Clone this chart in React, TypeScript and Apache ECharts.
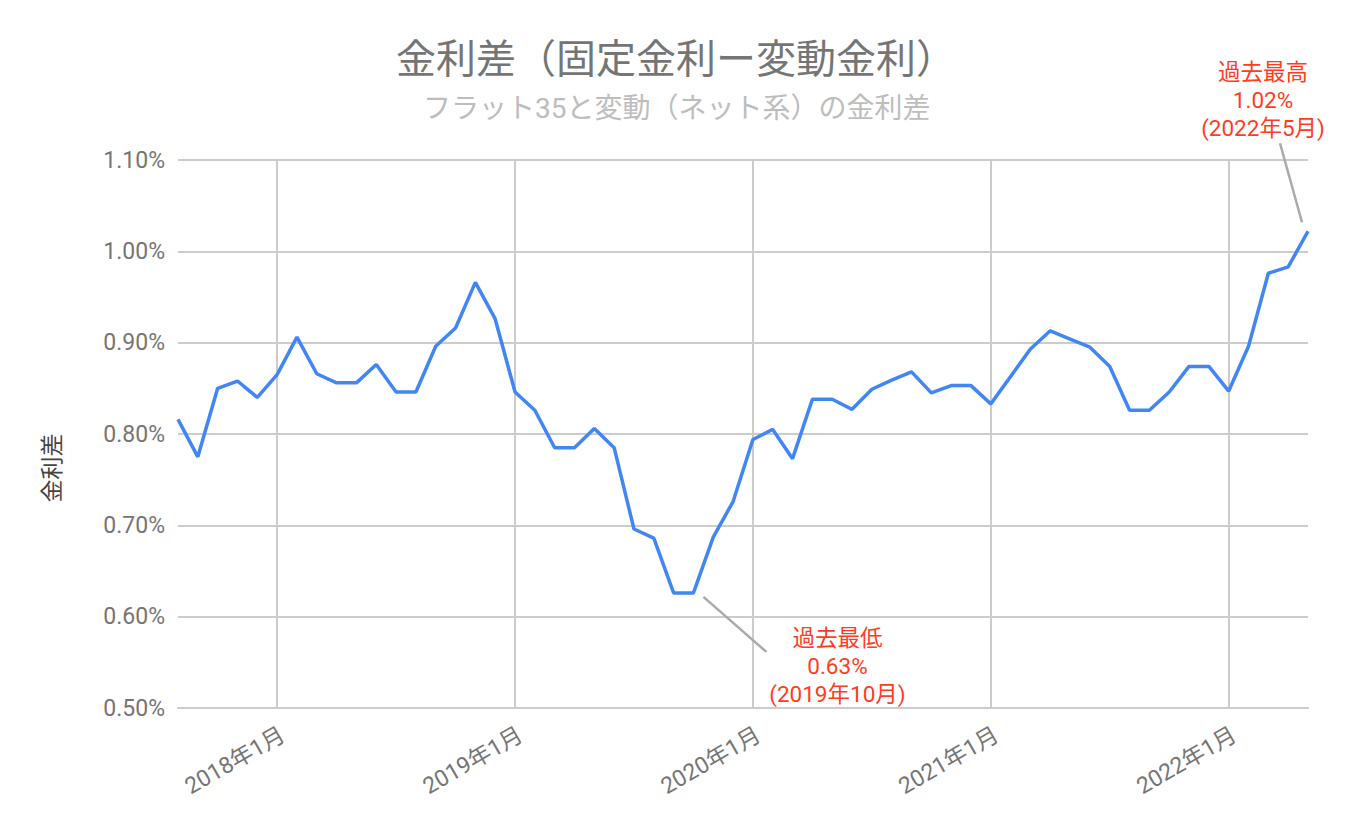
import React, { useEffect, useRef } from "react";
import * as echarts from "echarts";

const categories: string[] = [
  "2017年8月", "2017年9月", "2017年10月", "2017年11月", "2017年12月",
  "2018年1月", "2018年2月", "2018年3月", "2018年4月", "2018年5月", "2018年6月",
  "2018年7月", "2018年8月", "2018年9月", "2018年10月", "2018年11月", "2018年12月",
  "2019年1月", "2019年2月", "2019年3月", "2019年4月", "2019年5月", "2019年6月",
  "2019年7月", "2019年8月", "2019年9月", "2019年10月", "2019年11月", "2019年12月",
  "2020年1月", "2020年2月", "2020年3月", "2020年4月", "2020年5月", "2020年6月",
  "2020年7月", "2020年8月", "2020年9月", "2020年10月", "2020年11月", "2020年12月",
  "2021年1月", "2021年2月", "2021年3月", "2021年4月", "2021年5月", "2021年6月",
  "2021年7月", "2021年8月", "2021年9月", "2021年10月", "2021年11月", "2021年12月",
  "2022年1月", "2022年2月", "2022年3月", "2022年4月", "2022年5月",
];

const spreadValues: number[] = [
  0.816, 0.775, 0.850, 0.858, 0.840,
  0.865, 0.906, 0.866, 0.856, 0.856, 0.876,
  0.846, 0.846, 0.896, 0.916, 0.966, 0.926,
  0.846, 0.826, 0.785, 0.785, 0.806, 0.785,
  0.696, 0.686, 0.626, 0.626, 0.687, 0.726,
  0.794, 0.805, 0.773, 0.838, 0.838, 0.827,
  0.849, 0.859, 0.868, 0.845, 0.853, 0.853,
  0.833, 0.863, 0.893, 0.913, 0.904, 0.895,
  0.874, 0.826, 0.826, 0.846, 0.874, 0.874,
  0.847, 0.896, 0.976, 0.983, 1.022,
];

const titleText = "金利差（固定金利ー変動金利）";
const subtitleText = "フラット35と変動（ネット系）の金利差";
const yAxisName = "金利差";

const maxIndex = 57;
const maxLabel = ["過去最高", "1.02%", "(2022年5月)"];
const minIndex = 26;
const minLabel = ["過去最低", "0.63%", "(2019年10月)"];

const FONT = "Roboto, 'Noto Sans CJK JP', sans-serif";
const isJanuary = (i: number) => /年1月$/.test(categories[i]);

export default function App() {
  const ref = useRef<HTMLDivElement>(null);

  useEffect(() => {
    document.body.style.margin = "0";
    if (!ref.current) return;
    const chart = echarts.init(ref.current, undefined, { renderer: "svg" });
    chart.setOption({
      animation: false,
      backgroundColor: "#ffffff",
      textStyle: { fontFamily: FONT },
      title: [
        {
          text: titleText,
          left: 391,
          top: 33,
          textStyle: { fontSize: 40, fontWeight: "normal", color: "#757575", lineHeight: 42, fontFamily: FONT },
        },
        {
          text: subtitleText,
          left: 418,
          top: 88,
          textStyle: { fontSize: 28, fontWeight: "normal", color: "#bdbdbd", lineHeight: 30, fontFamily: FONT },
        },
      ],
      grid: { left: 178, right: 40, top: 160, bottom: 118, containLabel: false },
      xAxis: {
        type: "category",
        data: categories,
        boundaryGap: false,
        axisLine: { show: true, lineStyle: { color: "#cccccc", width: 2 } },
        axisTick: { show: false },
        axisLabel: {
          interval: (i: number) => isJanuary(i),
          rotate: 30,
          verticalAlign: "top",
          color: "#757575",
          fontSize: 23,
          margin: 15,
          fontFamily: FONT,
        },
        splitLine: {
          show: true,
          interval: (i: number) => isJanuary(i),
          lineStyle: { color: "#cccccc", width: 2 },
        },
      },
      yAxis: {
        type: "value",
        min: 0.5,
        max: 1.1,
        interval: 0.1,
        axisLine: { show: false },
        axisTick: { show: false },
        axisLabel: {
          formatter: (v: number) => v.toFixed(2) + "%",
          color: "#757575",
          fontSize: 23,
          margin: 13,
          fontFamily: FONT,
        },
        splitLine: { show: true, lineStyle: { color: "#cccccc", width: 2 } },
      },
      series: [
        {
          type: "line",
          data: spreadValues,
          symbol: "none",
          lineStyle: { color: "#4285F4", width: 3.5 },
          itemStyle: { color: "#4285F4" },
        },
      ],
    });

    const pMax = chart.convertToPixel({ seriesIndex: 0 }, [maxIndex, spreadValues[maxIndex]]) as number[];
    const pMin = chart.convertToPixel({ seriesIndex: 0 }, [minIndex, spreadValues[minIndex]]) as number[];
    const red = "#ff3d1e";
    const lineStyle = { stroke: "#aaaaaa", lineWidth: 2.5 };
    const mkText = (lines: string[], cx: number, firstY: number) =>
      lines.map((t, k) => ({
        type: "text",
        x: cx,
        y: firstY + k * 28,
        style: {
          text: t,
          fill: red,
          font: `22.5px ${FONT}`,
          textAlign: "center",
          textVerticalAlign: "middle",
        },
        silent: true,
      }));

    chart.setOption({
      graphic: [
        {
          type: "text",
          x: 52,
          y: 468,
          rotation: Math.PI / 2,
          style: {
            text: yAxisName,
            fill: "#444444",
            font: `23px ${FONT}`,
            textAlign: "center",
            textVerticalAlign: "middle",
          },
          silent: true,
        },
        {
          type: "line",
          shape: { x1: pMax[0] - 6, y1: pMax[1] - 9, x2: pMax[0] - 28, y2: pMax[1] - 88 },
          style: lineStyle,
          silent: true,
        },
        ...mkText(maxLabel, pMax[0] - 45, pMax[1] - 159),
        {
          type: "line",
          shape: { x1: pMin[0] + 10, y1: pMin[1] + 4, x2: pMin[0] + 73, y2: pMin[1] + 59 },
          style: lineStyle,
          silent: true,
        },
        ...mkText(minLabel, pMin[0] + 144, pMin[1] + 45),
      ],
    });

    return () => chart.dispose();
  }, []);

  return <div ref={ref} style={{ width: 1348, height: 826 }} />;
}
